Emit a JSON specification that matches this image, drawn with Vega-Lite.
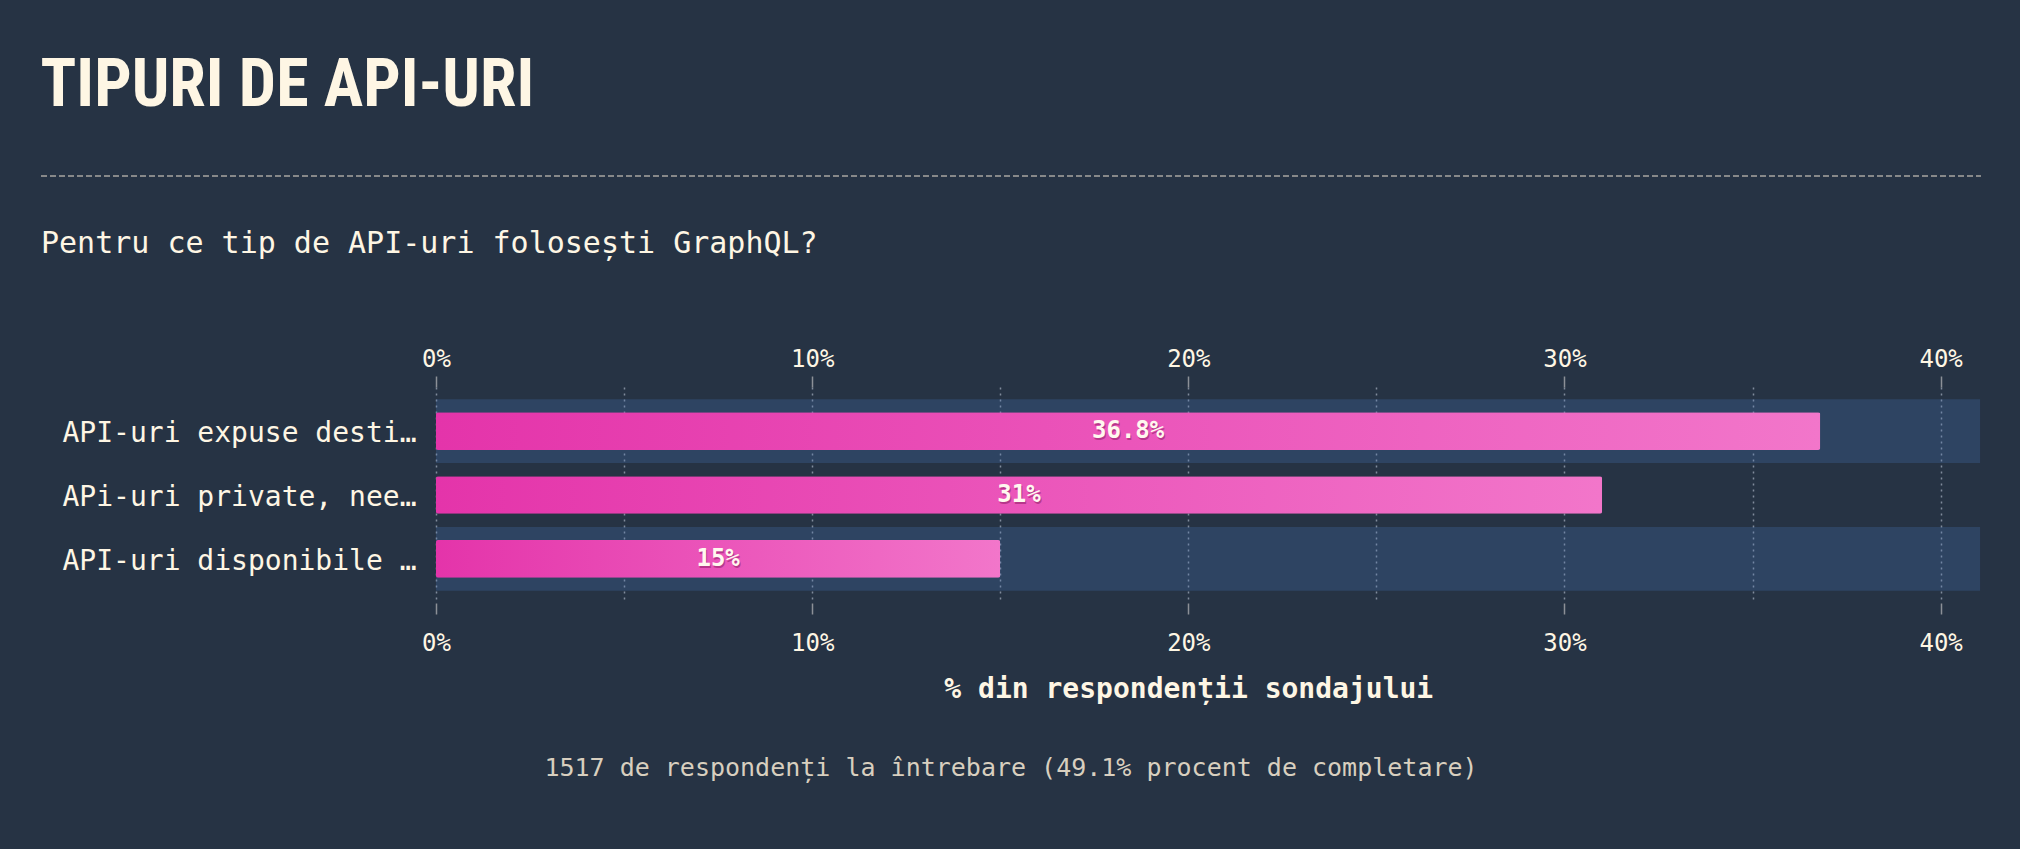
{
  "$schema": "https://vega.github.io/schema/vega-lite/v6.json",
  "background": "#263344",
  "padding": {"left": 40, "top": 53, "right": 40, "bottom": 59},
  "title": {"text": "TIPURI DE API-URI", "anchor": "start", "frame": "bounds", "font": "Noto Sans Condensed, Roboto Condensed, Liberation Sans Narrow, Liberation Sans", "fontSize": 66, "fontWeight": "bold", "color": "#fef6e4", "offset": 46},
  "config": {"view": {"stroke": null}, "font": "DejaVu Sans Mono"},
  "spacing": 43,
  "datasets": {
    "api": [
      {"label": "API-uri expuse destinate publicului", "share": 0.368},
      {"label": "APi-uri private, neexpuse publicului", "share": 0.31},
      {"label": "API-uri disponibile partenerilor", "share": 0.15}
    ]
  },
  "vconcat": [
    {
      "width": 1940,
      "height": 0,
      "data": {"values": [{}]},
      "mark": {"type": "rule", "color": "#e9e0cf", "strokeDash": [6, 3], "strokeWidth": 1},
      "encoding": {"x": {"value": 0}, "x2": {"value": "width"}}
    },
    {
      "width": 1940,
      "height": 216,
      "title": {"text": "Pentru ce tip de API-uri folosești GraphQL?", "anchor": "start", "frame": "bounds", "font": "DejaVu Sans Mono", "fontSize": 30, "fontWeight": "normal", "color": "#fef6e4", "offset": 88},
      "data": {"name": "api"},
      "encoding": {
        "y": {
          "field": "label", "type": "nominal",
          "sort": ["API-uri expuse destinate publicului", "APi-uri private, neexpuse publicului", "API-uri disponibile partenerilor"],
          "scale": {"paddingInner": 0, "paddingOuter": 0.19},
          "axis": {"title": null, "orient": "left", "offset": -395, "domain": false, "ticks": false, "tickSize": 0, "labelPadding": 20, "labelFont": "DejaVu Sans Mono", "labelFontSize": 28, "labelColor": "#fef6e4", "labelLimit": 362, "labelOffset": 3}
        }
      },
      "layer": [
        {
          "transform": [{"filter": {"field": "label", "oneOf": ["API-uri expuse destinate publicului", "API-uri disponibile partenerilor"]}}],
          "mark": {"type": "bar", "color": "#4677bc", "opacity": 0.25, "height": {"band": 1}},
          "encoding": {
            "x": {"datum": 0, "type": "quantitative", "axis": null},
            "x2": {"datum": 0.4105}
          }
        },
        {
          "mark": {"type": "bar", "height": {"band": 0.59}, "cornerRadius": 2, "color": {"gradient": "linear", "x1": 0, "x2": 1, "y1": 0, "y2": 0, "stops": [{"offset": 0, "color": "#e434aa"}, {"offset": 1, "color": "#f276ca"}]}},
          "encoding": {
            "x": {
              "field": "share", "type": "quantitative",
              "scale": {"domain": [0, 0.4], "nice": false, "zero": true, "range": [395, 1899.6]},
              "axis": {
                "orient": "bottom",
                "values": [0, 0.05, 0.1, 0.15, 0.2, 0.25, 0.3, 0.35, 0.4],
                "format": ".0%",
                "labelExpr": "round(datum.value * 100) % 10 === 0 ? datum.label : ''",
                "labelFlush": false, "labelOverlap": false,
                "grid": false, "domain": false,
                "tickSize": 11, "tickWidth": 1.5,
                "tickColor": {"condition": {"test": "round(datum.value * 100) % 10 !== 0", "value": "transparent"}, "value": "#8c9097"},
                "labelFont": "DejaVu Sans Mono", "labelFontSize": 24, "labelColor": "#fef6e4", "labelPadding": 17,
                "title": "% din respondenții sondajului",
                "titleFont": "DejaVu Sans Mono", "titleFontSize": 28, "titleFontWeight": "bold", "titleColor": "#fef6e4", "titlePadding": 20
              }
            }
          }
        },
        {
          "mark": {"type": "text", "font": "DejaVu Sans Mono", "fontSize": 24, "fontWeight": "bold", "color": "#8f1e66", "opacity": 0.55, "dx": 1, "dy": 2, "align": "center", "baseline": "middle"},
          "encoding": {
            "x": {"field": "share", "type": "quantitative", "stack": "zero", "bandPosition": 0.5, "axis": null},
            "text": {"field": "share", "format": ".3~%"}
          }
        },
        {
          "mark": {"type": "text", "font": "DejaVu Sans Mono", "fontSize": 24, "fontWeight": "bold", "color": "#fff8ef", "align": "center", "baseline": "middle"},
          "encoding": {
            "x": {
              "field": "share", "type": "quantitative", "stack": "zero", "bandPosition": 0.5,
              "axis": {
                "orient": "top",
                "values": [0, 0.05, 0.1, 0.15, 0.2, 0.25, 0.3, 0.35, 0.4],
                "format": ".0%",
                "labelExpr": "round(datum.value * 100) % 10 === 0 ? datum.label : ''",
                "labelFlush": false, "labelOverlap": false,
                "grid": true, "gridColor": "#808b9b", "gridDash": [2, 4], "gridWidth": 1.5,
                "domain": false,
                "tickSize": 11, "tickWidth": 1.5,
                "tickColor": {"condition": {"test": "round(datum.value * 100) % 10 !== 0", "value": "transparent"}, "value": "#8c9097"},
                "labelFont": "DejaVu Sans Mono", "labelFontSize": 24, "labelColor": "#fef6e4", "labelPadding": 5,
                "title": null
              }
            },
            "text": {"field": "share", "format": ".3~%"}
          }
        }
      ],
      "resolve": {"axis": {"x": "independent"}}
    },
    {
      "width": 1940,
      "height": 44,
      "data": {"values": [{"note": "1517 de respondenți la întrebare (49.1% procent de completare)"}]},
      "mark": {"type": "text", "font": "DejaVu Sans Mono", "fontSize": 25, "color": "#d8cfbf", "align": "center", "baseline": "middle"},
      "encoding": {
        "text": {"field": "note"},
        "x": {"datum": 0.5, "type": "quantitative", "scale": {"domain": [0, 1]}, "axis": null}
      }
    }
  ]
}
